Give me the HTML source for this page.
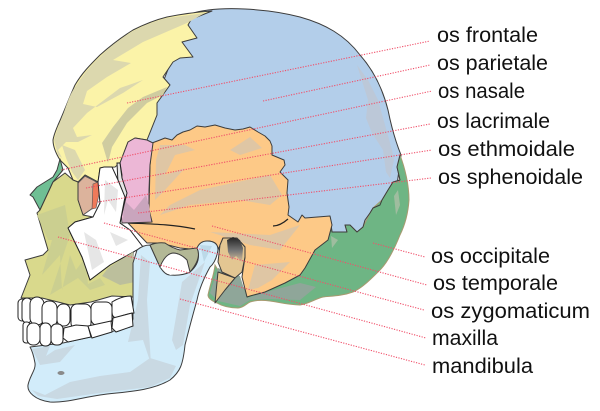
<!DOCTYPE html>
<html><head><meta charset="utf-8"><style>
html,body{margin:0;padding:0;background:#fff}
svg{display:block}
text{font-family:"Liberation Sans",sans-serif;font-size:21px;fill:#111}
.o{stroke:#3c3c3c;stroke-width:1;stroke-linejoin:round}
.s{stroke:none}
.l{fill:none;stroke:#f0506a;stroke-width:1.1;stroke-dasharray:1.2 1.4}
.t{fill:#fff;stroke:#222;stroke-width:1}
</style></head><body>
<svg width="600" height="411" viewBox="0 0 600 411" xmlns="http://www.w3.org/2000/svg">
<defs><linearGradient id="h" x1="0" y1="0" x2="0" y2="1"><stop offset="0" stop-color="#222"/><stop offset=".55" stop-color="#777"/><stop offset="1" stop-color="#d8c09a"/></linearGradient></defs>
<!-- parietal -->
<path class="o" fill="#b3ceea" d="M190 14C205 9 225 8 245 9C265 10 285 13 300 17C325 24 345 35 360 55C375 72 383 90 388 110C392 130 397 145 401 155L395 200L370 240L300 240L150 200L140 140Z"/>
<path class="s" fill="#bcc8d8" d="M357 65L368 80L378 100L385 125L392 150L394 160L390 178L386 172L383 150L372 133L366 118L368 100Z"/>
<!-- occipital -->
<path fill="#6eb584" stroke="#a89a70" stroke-width="1" d="M400 155C405 168 409 185 409 200C408 215 405 225 400 235C394 250 388 262 380 270C370 280 362 288 353 292C342 296 332 296 323 297C315 299 308 304 300 305C288 305 278 302 270 301C262 300 256 300 250 302C246 304 243 308 238 308C230 308 222 306 217 303C212 301 208 298 208 295C210 285 214 275 215 265L230 290L260 285L300 272L330 217L332 232L347 232L345 225L350 225L357 232L363 227L370 213L373 208L382 200L388 190L393 182L400 180L397 167Z"/>
<path class="o" fill="none" d="M400 155L397 167L400 180L393 182L388 190L382 200L380 205L373 208L370 213L365 220L363 227L357 232L350 225L345 225L347 232L332 232L330 217"/>
<path class="s" fill="#8fa699" d="M218 268L240 276L247 298L262 293L300 283L316 287L300 300L270 299L250 300L240 306L218 301L210 293Z"/>
<path class="s" fill="#9fbd9f" d="M331 236L338 240L332 248ZM394 196L398 190L400 205L396 215Z"/>
<!-- frontal -->
<path class="o" fill="#fbf3a8" d="M60 160C55 152 53 146 53 140C54 134 56 130 58 125C64 112 69 98 75 85C82 73 90 65 100 55C110 46 122 37 133 30C145 24 155 20 167 17C182 14 197 12 212 11L197 17L192 18L188 25L197 38L182 42L193 57L180 58L173 62L163 77L170 85L157 103L157 115L147 140L135 138L128 142L120 163L115 167L100 168L98 182L85 175L78 182L73 180L68 168Z"/>
<path class="s" fill="#dcd8ae" d="M54 140C56 132 60 122 64 112C68 100 72 90 76 86C84 73 92 64 101 56C110 46 122 38 133 31C145 25 155 21 167 18L205 13L187 23L143 42L113 60L131 63L107 77L87 91L83 104L97 107L123 93L143 80L120 88L87 113L73 128L77 137L92 135L78 142L66 142L58 150L62 158L58 155Z"/>
<path class="s" fill="#cfcca0" d="M167 87L143 97L128 108L113 127L102 143L108 163L112 147L127 123L147 103L163 95Z"/>
<path class="s" fill="#dcd8ae" d="M62 145L75 150L85 170L78 180L72 172L66 158Z"/>
<!-- temporal / sphenoid -->
<path class="o" fill="#fdc987" d="M152 143L160 140L165 138L172 140L177 135L183 132L190 130L197 126L205 127L215 125L225 128L235 130L243 129L250 127L258 132L265 136L270 141L272 146L272 155L284 160L285 165L280 172L288 180L287 193L289 207L288 215L298 222L302 215L305 218L330 216L332 225L328 240L315 250L305 268L300 275L285 283L265 292L250 296L247 297L242 277L245 257L245 247L237 238L223 238L218 250C218 243 213 241 207 241L200 250L180 248L160 243L147 243L128 223L152 222L149 210L150 165Z"/>
<path class="s" fill="#dfc6a4" d="M160 145L185 145L195 150L175 155L165 175L185 168L165 190L155 200L156 160ZM230 150L250 137L262 148L240 155ZM200 190L270 175L282 195L270 205L240 200L190 205L160 215L170 205ZM210 232L270 235L300 225L280 250L250 245L235 240ZM248 290L255 265L290 262L272 280L258 288Z"/>
<path fill="none" stroke="#222" stroke-width="1.2" d="M128 223C150 224 170 224 195 229M288 219Q280 226 273 226"/>
<!-- ear region -->
<path class="o" fill="#e3c692" d="M223 238L237 238L245 247L245 257L242 272L235 278L222 272L218 262L220 245Z"/>
<path class="s" fill="url(#h)" d="M227 240L233 237L240 240L243 248L242 262L236 256L232 260L228 252Z"/>
<path class="o" fill="#e8c88e" d="M218 272L235 278L225 290L215 303Z"/>
<!-- sphenoid pink -->
<path class="o" fill="#ecb7d6" d="M128 142L135 138L147 140L153 143L150 165L149 190L149 210L152 222L122 223L120 200L122 175L120 163Z"/>
<path class="s" fill="#c9a5bd" d="M123 222L124 200L134 210L146 195L149 205L151 221Z"/>
<!-- ethmoid strip -->
<path fill="#e6e6e6" stroke="#222" stroke-width="1" d="M117 163L120 163L122 178L127 193L124 205L120 223L118 222L122 200L118 183Z"/>
<!-- lacrimal -->
<path fill="#dcb39c" stroke="#555" stroke-width="1" d="M85 176L93 180L98 183L93 208L83 215L77 200L78 183Z"/>
<path fill="#ef7a5a" stroke="#555" stroke-width=".6" d="M93 184L98 182L100 190L96 208L92 209Z"/>
<!-- nasal -->
<path class="o" fill="#6fbf94" d="M60 159L63 170L53 182L40 210L33 197L30 195L37 187L53 177L57 170Z"/>
<!-- maxilla -->
<path class="o" fill="#d9d98c" d="M65 173L73 180L78 182L78 200L83 215L93 217L75 222L68 228L82 257L90 280L110 265L133 250L133 297L112 296L91 302L70 305L42 298L21 298L30 275L25 260L43 255L48 250L37 213L40 210L53 182Z"/>
<path class="s" fill="#cbcf90" d="M37 215L48 240L52 240L42 275L60 255L62 290L70 255L76 270L85 258L88 284L100 278L105 285L90 290L78 278L50 295L70 235L65 205Z"/>
<!-- zygomatic -->
<path fill="#fff" stroke="#222" stroke-width="1" d="M100 168L104 167L112 167L118 180L125 197L120 223L130 230L143 247L137 250L110 265L90 280L82 257L68 228L75 222L93 217L100 203L98 182Z"/>
<path class="s" fill="#e6e6e6" d="M105 180L118 190L116 212L108 200L104 215ZM84 232L96 240L104 262L92 270ZM110 232L128 240L116 246Z"/>
<path class="s" fill="#bcbf9c" d="M108 268L133 252L135 282L120 285L102 276Z"/>
<!-- mandible -->
<path class="o" fill="#d2ecfa" d="M137 250Q143 245 150 245L160 267Q165 275 170 275Q182 276 190 272Q202 262 197 248Q200 241 207 241Q218 241 218 250Q216 262 210 267Q200 285 197 300Q190 325 185 345C183 365 180 372 170 380C150 392 120 392 100 395C80 398 65 403 50 402C35 400 27 392 28 385C30 375 36 370 35 363Q33 352 30 347L63 343L90 337L130 327L133 320L133 263Z"/>
<path class="s" fill="#c9d9e3" d="M141 255L150 262L147 300L151 364L143 340L128 342L138 300ZM182 282L205 262L190 305L183 345L176 350L172 340ZM32 349L50 346L46 356L55 350L75 345L60 362L40 365ZM32 390L45 395L70 382L100 376L130 372L150 358L176 366L170 378L150 387L100 393L57 399L38 396Z"/>
<path class="s" fill="#fff" d="M160 267L165 257L173 253L187 260L190 272L170 275Z"/>
<path fill="#b3b896" stroke="#3c3c3c" stroke-width="1" d="M150 245Q158 242 165 243Q172 248 180 250L197 248Q202 258 190 272L187 260Q180 253 173 253Q165 254 160 267Z"/>
<path class="s" fill="#bcd9e8" d="M200 245L212 246L204 262Z"/>
<ellipse cx="61" cy="373" rx="3.5" ry="2" fill="#8a8a8a"/>
<!-- teeth -->
<rect class="t" x="18" y="299" width="8" height="22" rx="4"/>
<rect class="t" x="22" y="298" width="10" height="25" rx="5"/>
<rect class="t" x="30" y="297" width="14" height="28" rx="7"/>
<rect class="t" x="42" y="301" width="15" height="26" rx="7"/>
<rect class="t" x="57" y="304" width="13" height="22" rx="6"/>
<rect class="t" x="71" y="304" width="20" height="25" rx="6"/>
<rect class="t" x="91" y="302" width="21" height="23" rx="6"/>
<path class="t" d="M112 302Q122 296 131 296L134 313Q125 314 117 318Q112 318 112 312Z"/>
<rect class="t" x="23" y="322" width="7" height="21" rx="3"/>
<rect class="t" x="27" y="323" width="13" height="22" rx="6"/>
<rect class="t" x="40" y="323" width="11" height="23" rx="5"/>
<rect class="t" x="51" y="324" width="12" height="21" rx="5"/>
<path class="t" d="M64 328L76 325L88 326L91 337L68 342L63 338Z"/>
<path class="t" d="M88 326L111 321L112 332L92 338Z"/>
<path class="t" d="M113 318L132 313L133 326L116 332L112 328Z"/>
<!-- leader lines -->
<g class="l">
<path d="M127 103L430 41"/>
<path d="M263 101L430 65"/>
<path d="M61 170L432 91"/>
<path d="M86 188L430 124"/>
<path d="M98 202L432 150"/>
<path d="M138 213L431 178"/>
<path d="M373 243L425 257"/>
<path d="M212 226L427 285"/>
<path d="M104 223L424 310"/>
<path d="M58 237L426 338"/>
<path d="M180 299L425 365"/>
</g>
<!-- labels -->
<text x="437" y="42" textLength="101" lengthAdjust="spacingAndGlyphs">os frontale</text>
<text x="437" y="70" textLength="111" lengthAdjust="spacingAndGlyphs">os parietale</text>
<text x="438" y="98" textLength="87" lengthAdjust="spacingAndGlyphs">os nasale</text>
<text x="437" y="128" textLength="113" lengthAdjust="spacingAndGlyphs">os lacrimale</text>
<text x="438" y="156" textLength="137" lengthAdjust="spacingAndGlyphs">os ethmoidale</text>
<text x="438" y="184" textLength="145" lengthAdjust="spacingAndGlyphs">os sphenoidale</text>
<text x="431" y="263" textLength="119" lengthAdjust="spacingAndGlyphs">os occipitale</text>
<text x="433" y="290" textLength="125" lengthAdjust="spacingAndGlyphs">os temporale</text>
<text x="431" y="318" textLength="159" lengthAdjust="spacingAndGlyphs">os zygomaticum</text>
<text x="432" y="345" textLength="66" lengthAdjust="spacingAndGlyphs">maxilla</text>
<text x="432" y="373" textLength="101" lengthAdjust="spacingAndGlyphs">mandibula</text>
</svg>
</body></html>
